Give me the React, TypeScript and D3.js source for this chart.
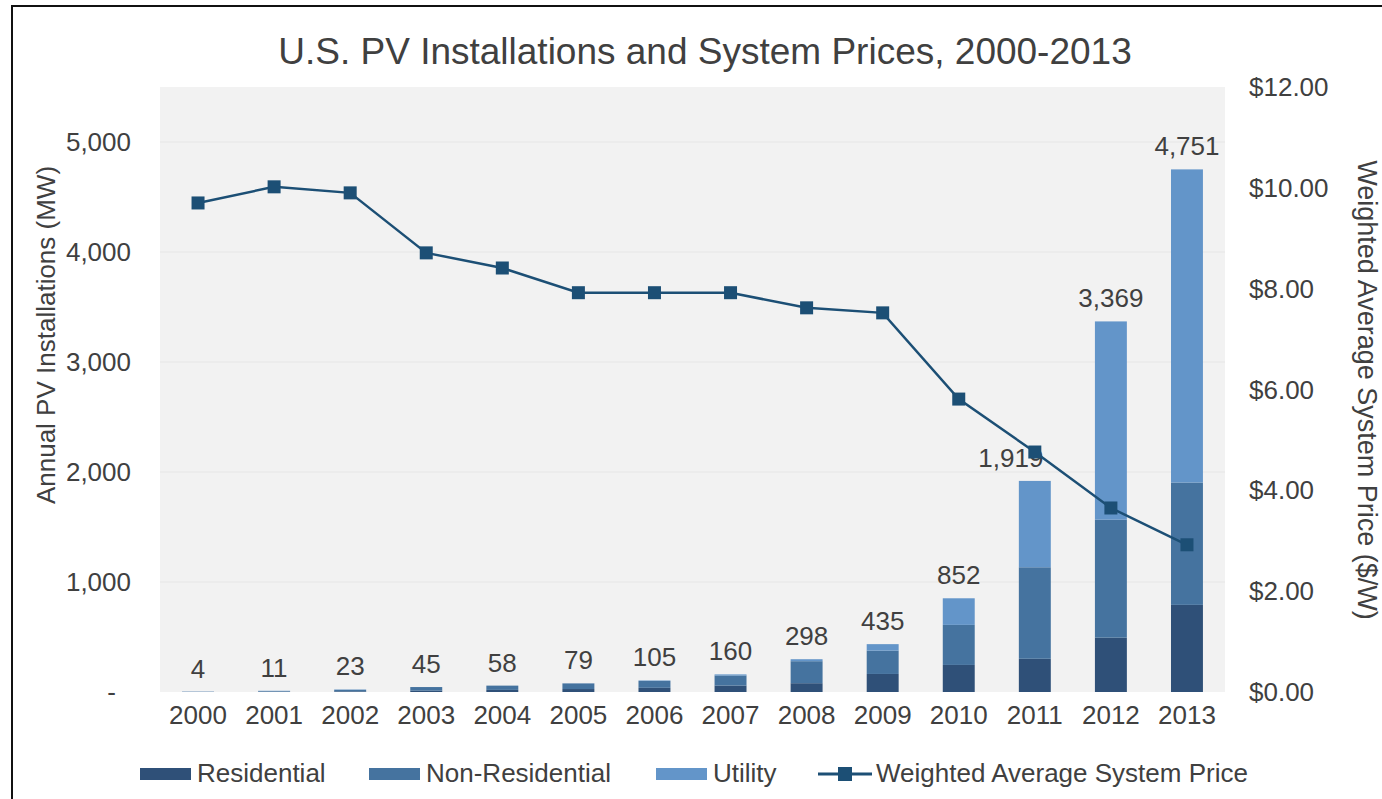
import React, { useEffect, useRef } from 'react';
import * as d3 from 'd3';

const years = ['2000', '2001', '2002', '2003', '2004', '2005', '2006', '2007', '2008', '2009', '2010', '2011', '2012', '2013'];
const residential = [1, 3, 6, 12, 19, 27, 38, 58, 80, 164, 246, 302, 494, 792];
const nonResidential = [1, 5, 14, 33, 39, 51, 63, 92, 200, 212, 364, 832, 1072, 1112];
const utility = [2, 3, 3, 0, 0, 1, 4, 10, 18, 59, 242, 785, 1803, 2847];
const totals = [4, 11, 23, 45, 58, 79, 105, 160, 298, 435, 852, 1919, 3369, 4751];
const price = [9.7, 10.02, 9.9, 8.71, 8.41, 7.92, 7.92, 7.92, 7.62, 7.52, 5.81, 4.76, 3.65, 2.92];
const leftTicks = [0, 1000, 2000, 3000, 4000, 5000];
const rightTicks = [0, 2, 4, 6, 8, 10, 12];
const seriesNames = ['Residential', 'Non-Residential', 'Utility'];
const seriesColors = ['#2f5078', '#45739f', '#6395c9'];
const lineColor = '#1c4f75';

export default function App() {
  const ref = useRef<SVGSVGElement>(null);

  useEffect(() => {
    const svg = d3.select(ref.current);
    svg.selectAll('*').remove();
    const font = '"Liberation Sans", Arial, sans-serif';
    const textColor = '#404040';
    const fs = 26;

    const plot = { left: 160, right: 1225, top: 87, bottom: 692 };

    // frame
    svg.append('rect')
      .attr('x', 12).attr('y', 6).attr('width', 1420).attr('height', 840)
      .attr('fill', '#fff').attr('stroke', '#111').attr('stroke-width', 2);

    svg.append('rect')
      .attr('x', plot.left).attr('y', plot.top)
      .attr('width', plot.right - plot.left).attr('height', plot.bottom - plot.top)
      .attr('fill', '#f2f2f2');

    const x = d3.scaleBand<string>()
      .domain(years)
      .range([plot.left, plot.right])
      .paddingInner(0.58)
      .paddingOuter(0.29);

    const yL = d3.scaleLinear().domain([0, 5500]).range([plot.bottom, plot.top]);
    const yR = d3.scaleLinear().domain([0, 12]).range([plot.bottom, plot.top]);

    // gridlines
    svg.append('g').selectAll('line')
      .data(leftTicks.slice(1))
      .enter().append('line')
      .attr('x1', plot.left).attr('x2', plot.right)
      .attr('y1', d => yL(d)).attr('y2', d => yL(d))
      .attr('stroke', '#e6e6e6').attr('stroke-width', 1);

    // stacked bars
    const rows = years.map((y, i) => ({ year: y, Residential: residential[i], 'Non-Residential': nonResidential[i], Utility: utility[i] }));
    const stack = d3.stack<any>().keys(seriesNames)(rows);
    svg.append('g').selectAll('g')
      .data(stack)
      .enter().append('g')
      .attr('fill', (d, i) => seriesColors[i])
      .selectAll('rect')
      .data(d => d)
      .enter().append('rect')
      .attr('x', d => x(d.data.year) as number)
      .attr('width', x.bandwidth())
      .attr('y', d => yL(d[1]))
      .attr('height', d => yL(d[0]) - yL(d[1]));

    // total labels
    svg.append('g').selectAll('text')
      .data(totals)
      .enter().append('text')
      .attr('x', (d, i) => (x(years[i]) as number) + x.bandwidth() / 2 + (i === 11 ? -24 : 0))
      .attr('y', d => yL(d) - 14)
      .attr('text-anchor', 'middle')
      .attr('font-family', font).attr('font-size', fs).attr('fill', textColor)
      .text(d => d3.format(',')(d));

    // price line
    const line = d3.line<number>()
      .x((d, i) => (x(years[i]) as number) + x.bandwidth() / 2)
      .y(d => yR(d));
    svg.append('path')
      .datum(price)
      .attr('d', line)
      .attr('fill', 'none').attr('stroke', lineColor).attr('stroke-width', 2.5);
    svg.append('g').selectAll('rect')
      .data(price)
      .enter().append('rect')
      .attr('x', (d, i) => (x(years[i]) as number) + x.bandwidth() / 2 - 6.5)
      .attr('y', d => yR(d) - 6.5)
      .attr('width', 13).attr('height', 13)
      .attr('fill', lineColor);

    // left axis
    svg.append('g').selectAll('text')
      .data(leftTicks)
      .enter().append('text')
      .attr('x', d => d === 0 ? 116 : 131)
      .attr('y', d => yL(d) + 9)
      .attr('text-anchor', 'end')
      .attr('font-family', font).attr('font-size', fs).attr('fill', textColor)
      .text(d => d === 0 ? '-' : d3.format(',')(d));

    // right axis
    svg.append('g').selectAll('text')
      .data(rightTicks)
      .enter().append('text')
      .attr('x', 1249)
      .attr('y', d => yR(d) + 9)
      .attr('font-family', font).attr('font-size', fs).attr('fill', textColor)
      .text(d => '$' + d3.format('.2f')(d));

    // x axis labels
    svg.append('g').selectAll('text')
      .data(years)
      .enter().append('text')
      .attr('x', d => (x(d) as number) + x.bandwidth() / 2)
      .attr('y', 724)
      .attr('text-anchor', 'middle')
      .attr('font-family', font).attr('font-size', fs).attr('fill', textColor)
      .text(d => d);

    // title
    svg.append('text')
      .attr('x', 705).attr('y', 64)
      .attr('text-anchor', 'middle')
      .attr('font-family', font).attr('font-size', 37).attr('fill', textColor)
      .text('U.S. PV Installations and System Prices, 2000-2013');

    // axis titles
    svg.append('text')
      .attr('transform', 'translate(55,335) rotate(-90)')
      .attr('text-anchor', 'middle')
      .attr('font-family', font).attr('font-size', fs).attr('fill', textColor)
      .text('Annual  PV Installations (MW)');
    svg.append('text')
      .attr('transform', 'translate(1358,390) rotate(90)')
      .attr('text-anchor', 'middle')
      .attr('font-family', font).attr('font-size', 27).attr('fill', textColor)
      .text('Weighted Average System Price ($/W)');

    // legend
    const legend = svg.append('g');
    const legendX = [140, 369, 656];
    seriesNames.forEach((name, i) => {
      legend.append('rect')
        .attr('x', legendX[i]).attr('y', 768).attr('width', 51).attr('height', 12)
        .attr('fill', seriesColors[i]);
      legend.append('text')
        .attr('x', legendX[i] + 57).attr('y', 782)
        .attr('font-family', font).attr('font-size', fs).attr('fill', textColor)
        .text(name);
    });
    legend.append('line')
      .attr('x1', 818).attr('x2', 872).attr('y1', 774).attr('y2', 774)
      .attr('stroke', lineColor).attr('stroke-width', 3);
    legend.append('rect')
      .attr('x', 838).attr('y', 767).attr('width', 14).attr('height', 14)
      .attr('fill', lineColor);
    legend.append('text')
      .attr('x', 876).attr('y', 782)
      .attr('font-family', font).attr('font-size', fs).attr('fill', textColor)
      .text('Weighted Average System Price');
  }, []);

  return (
    <svg ref={ref} width={1382} height={799}
      style={{ position: 'absolute', left: 0, top: 0, background: '#fff' }} />
  );
}
